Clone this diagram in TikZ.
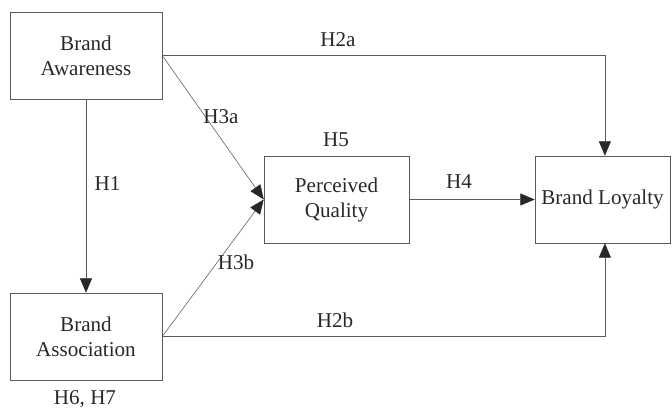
\documentclass[tikz,border=0pt]{standalone}
\usepackage{fontspec}
\setmainfont{Liberation Serif}
\usetikzlibrary{arrows.meta, positioning, calc}
\definecolor{linecolor}{RGB}{90, 90, 90}
\definecolor{textcolor}{RGB}{40, 40, 40}

\begin{document}
\begin{tikzpicture}[
    >={Triangle[length=0.36cm, width=0.3cm, color=textcolor]},
    box/.style={rectangle, draw=linecolor, thin, minimum width=3.8cm, minimum height=2.175cm, align=center, text=textcolor, font=\fontsize{15}{17.8}\selectfont},
    arrow/.style={->, draw=linecolor, thin},
    label/.style={text=textcolor, font=\fontsize{15}{17.8}\selectfont}
]

% Frame
\useasboundingbox (0, 0) rectangle (16.8, 10.275);

% Constructs
\node[box] (aware) at (2.15, 8.8875) {Brand\\Awareness};
\node[box] (assoc) at (2.15, 1.8625) {Brand\\Association};
\node[box, minimum width=3.625cm] (quality) at (8.4125, 5.2875) {Perceived\\Quality};
\node[box, minimum width=3.375cm] (loyal) at (15.0625, 5.2875) {Brand Loyalty};

% Paths
\draw[arrow] (aware) -- (assoc);
\draw[arrow] (aware.east) -- (quality.west);
\draw[arrow] (assoc.east) -- (quality.west);
\draw[arrow] (quality) -- (loyal);
\draw[arrow] (aware.east) -| ($(loyal.north) + (0.06, 0)$);
\draw[arrow] (assoc.east) -| ($(loyal.south) + (0.06, 0)$);

% Hypotheses
\node[label] (h1) at (2.69, 5.675) {H1};
\node[label] (h2a) at (8.45, 9.275) {H2a};
\node[label] (h2b) at (8.375, 2.275) {H2b};
\node[label] (h3a) at (5.525, 7.35) {H3a};
\node[label] (h3b) at (5.9, 3.725) {H3b};
\node[label] (h4) at (11.475, 5.725) {H4};
\node[label] (h5) at (8.4, 6.775) {H5};
\node[label] (h67) at (2.125, 0.3) {H6, H7};

\end{tikzpicture}
\end{document}
